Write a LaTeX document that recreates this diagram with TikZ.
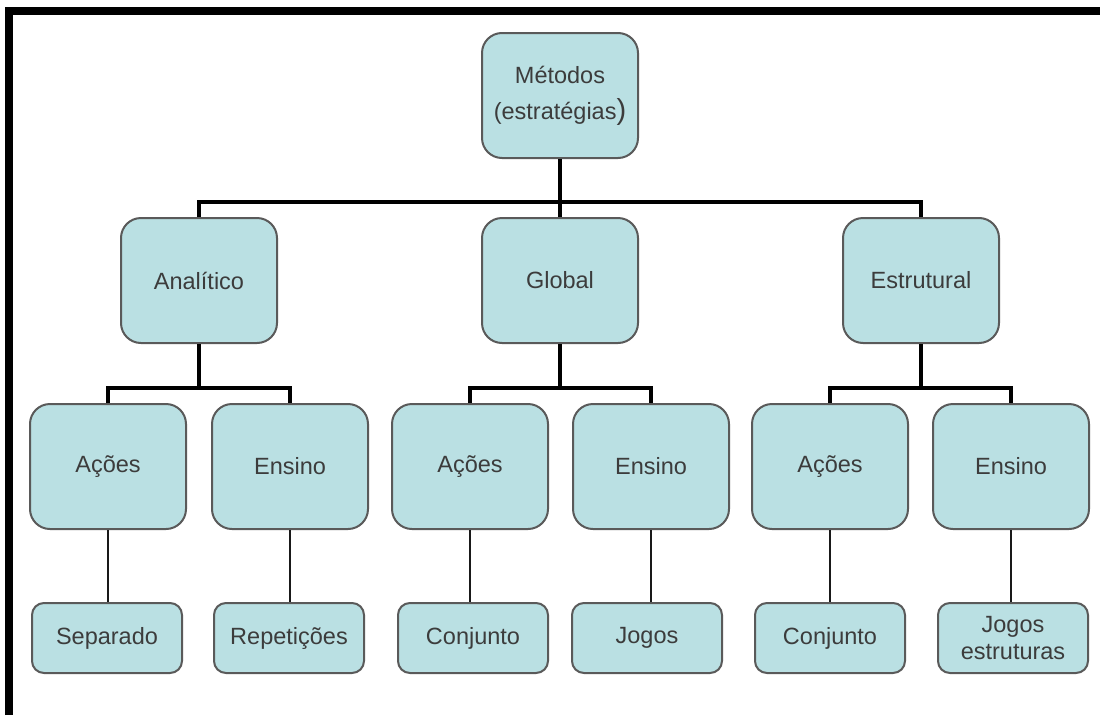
\documentclass[tikz,border=0pt]{standalone}
\usepackage{fontspec}
\setmainfont{Liberation Sans}
\usetikzlibrary{positioning}

\definecolor{boxfill}{HTML}{BAE0E3}
\definecolor{boxline}{HTML}{5A5A5A}
\definecolor{boxtext}{HTML}{3C3C3C}

\begin{document}
\begin{tikzpicture}[
	x=1pt, y=-1pt,
	font=\fontsize{23.5}{27}\selectfont
]
\tikzset{
    bignode/.style = {rectangle, rounded corners=20pt, draw=boxline, line width=2pt,
                      fill=boxfill, text=boxtext, align=center,
                      minimum width=156pt, minimum height=125pt, inner sep=2pt},
    leafnode/.style = {rectangle, rounded corners=12pt, draw=boxline, line width=2pt,
                       fill=boxfill, text=boxtext, align=center,
                       minimum width=150pt, minimum height=70pt, inner sep=2pt},
    edget/.style = {-, line width=4.5pt, black, line join=miter},
    edgen/.style = {-, line width=2.6pt, black!90}
}
\useasboundingbox (0,0) rectangle (1100,715);
\draw[line width=8pt, line join=miter] (9,715) -- (9,11) -- (1100,11);
%
\node[bignode] at (560,95.5) (met) {Métodos\\[9pt](estratégias{\fontsize{29}{29}\selectfont)}};
%
\node[bignode] at (199,280.5) (ana) {Analítico};
\node[bignode] at (560,280.5) (glo) {Global};
\node[bignode] at (921,280.5) (est) {Estrutural};
%
\node[bignode] at (108,466.5) (anaA) {Ações};
\node[bignode] at (290,466.5) (anaE) {Ensino};
\node[bignode] at (470,466.5) (gloA) {Ações};
\node[bignode] at (651,466.5) (gloE) {Ensino};
\node[bignode] at (830,466.5) (estA) {Ações};
\node[bignode] at (1011,466.5) (estE) {Ensino};
%
\node[leafnode] at (107,638) (sep) {Separado};
\node[leafnode] at (289,638) (rep) {Repetições};
\node[leafnode] at (473,638) (conG) {Conjunto};
\node[leafnode] at (647,638) (jog) {Jogos};
\node[leafnode] at (830,638) (conE) {Conjunto};
\node[leafnode] at (1013,638) (jogE) {Jogos\\estruturas};
%
\coordinate (j0) at (560,202);
\coordinate (j1) at (199,388);
\coordinate (j2) at (560,388);
\coordinate (j3) at (921,388);
%
\draw[edget] (met) -- (j0);
\draw[edget] (ana.north) |- (j0) -| (est.north);
\draw[edget] (j0) -- (glo);
%
\draw[edget] (ana) -- (j1);
\draw[edget] (anaA.north) |- (j1) -| (anaE.north);
\draw[edget] (glo) -- (j2);
\draw[edget] (gloA.north) |- (j2) -| (gloE.north);
\draw[edget] (est) -- (j3);
\draw[edget] (estA.north) |- (j3) -| (estE.north);
%
\draw[edgen] (anaA.south) -- (anaA.south |- sep.north);
\draw[edgen] (anaE.south) -- (anaE.south |- rep.north);
\draw[edgen] (gloA.south) -- (gloA.south |- conG.north);
\draw[edgen] (gloE.south) -- (gloE.south |- jog.north);
\draw[edgen] (estA.south) -- (estA.south |- conE.north);
\draw[edgen] (estE.south) -- (estE.south |- jogE.north);
\end{tikzpicture}
\end{document}
